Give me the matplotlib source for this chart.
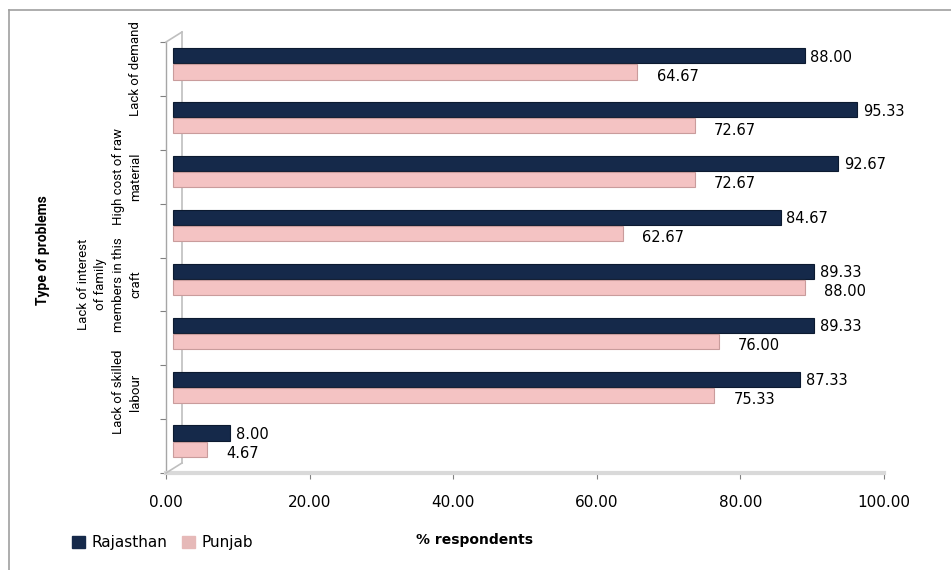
import matplotlib
matplotlib.use("Agg")
import matplotlib.pyplot as plt
import matplotlib.transforms as mtransforms
from matplotlib.lines import Line2D
import numpy as np

# ---------------- data ----------------
categories = [
    "Lack of demand",
    "",
    "High cost of raw\nmaterial",
    "",
    "Lack of interest\nof family\nmembers in this\ncraft",
    "",
    "Lack of skilled\nlabour",
    "",
]
rajasthan = [88.00, 95.33, 92.67, 84.67, 89.33, 89.33, 87.33, 8.00]
punjab = [64.67, 72.67, 72.67, 62.67, 88.00, 76.00, 75.33, 4.67]
series_names = ["Rajasthan", "Punjab"]
xticks = [0, 20, 40, 60, 80, 100]
xlabel = "% respondents"
ylabel = "Type of problems"

# ---------------- style ----------------
W, H, DPI = 951, 570, 100
c_raj = "#15294a"
c_raj_edge = "#0c1a30"
c_pun = "#f4c3c3"
c_pun_edge = "#c99c9c"
c_leg_pun = "#e6b9b8"
grid_c = "#bfbfbf"

fig = plt.figure(figsize=(W / DPI, H / DPI), dpi=DPI)
ax = fig.add_axes([166 / W, (H - 473) / H, (884 - 166) / W, (473 - 42) / H])

n = len(categories)
idx = np.arange(n)
off = mtransforms.ScaledTranslation(7 / DPI, 5 / DPI, fig.dpi_scale_trans)
bar_tr = ax.transData + off
bh = 0.28

b1 = ax.barh(idx - 0.15, rajasthan, height=bh, color=c_raj, edgecolor=c_raj_edge,
             linewidth=0.8, transform=bar_tr, label=series_names[0], zorder=3)
b2 = ax.barh(idx + 0.15, punjab, height=bh, color=c_pun, edgecolor=c_pun_edge,
             linewidth=0.8, transform=bar_tr, label=series_names[1], zorder=3)

for i in range(n):
    ax.annotate(f"{rajasthan[i]:.2f}", xy=(rajasthan[i], i - 0.15), xycoords=bar_tr,
                xytext=(4, -1), textcoords="offset points", ha="left", va="center",
                fontsize=10.5, color="#000000", zorder=4)
    ax.annotate(f"{punjab[i]:.2f}", xy=(punjab[i], i + 0.15), xycoords=bar_tr,
                xytext=(14, -3), textcoords="offset points", ha="left", va="center",
                fontsize=10.5, color="#000000", zorder=4)

ax.set_xlim(0, 100)
ax.set_ylim(n - 0.5, -0.5)
ax.set_xticks(xticks)
ax.set_xticklabels([f"{v:.2f}" for v in xticks], fontsize=11)
ax.tick_params(axis="x", length=4, color="#808080", pad=12, labelcolor="#000000")

# y: boundary ticks (major) and labels at centres (minor)
ax.set_yticks(np.arange(n + 1) - 0.5)
ax.set_yticklabels([])
ax.tick_params(axis="y", which="major", length=4, color="#808080")
ax.set_yticks(idx, minor=True)
ax.set_yticklabels(categories, minor=True, rotation=90, va="center", ha="right",
                   multialignment="center", fontsize=9.5, family="Roboto", color="#000000",
                   linespacing=1.45)
ax.tick_params(axis="y", which="minor", length=0, pad=17)

for s in ["top", "right"]:
    ax.spines[s].set_visible(False)
ax.spines["left"].set_color("#a6a6a6")
ax.spines["left"].set_linewidth(1)
ax.spines["bottom"].set_color("#d9d9d9")
ax.spines["bottom"].set_linewidth(3)

# 3-D back wall edge
wall = mtransforms.ScaledTranslation(16 / DPI, 10 / DPI, fig.dpi_scale_trans)
ax.plot([0, 0], [n - 0.5, -0.5], color=grid_c, lw=1.2, transform=ax.transData + wall,
        clip_on=False, zorder=1)
fig.canvas.draw()
for yv in [-0.5, n - 0.5]:
    p0 = ax.transData.transform((0, yv))
    p1 = (ax.transData + wall).transform((0, yv))
    fig.add_artist(Line2D([p0[0], p1[0]], [p0[1], p1[1]], transform=None,
                          color=grid_c, lw=1.2))

# axis titles
fig.text(474 / W, 1 - 540 / H, xlabel, ha="center", va="center", fontsize=10,
         fontweight="bold")
fig.text(43 / W, 1 - 250 / H, ylabel, ha="center", va="center", rotation=90,
         fontsize=10, fontweight="bold", family="Roboto")

# legend
h1 = plt.Rectangle((0, 0), 1, 1, color=c_raj)
h2 = plt.Rectangle((0, 0), 1, 1, color=c_leg_pun)
fig.legend([h1, h2], series_names, loc="center left",
           bbox_to_anchor=(72 / W, 1 - 543 / H), ncol=2, frameon=False,
           handlelength=0.85, handleheight=0.85, handletextpad=0.4,
           columnspacing=1.0, borderpad=0, borderaxespad=0, fontsize=11)

# outer chart border (top and left visible)
fig.add_artist(Line2D([9 / W, 1], [1 - 10 / H, 1 - 10 / H], transform=fig.transFigure,
                      color="#a0a0a0", lw=1.2))
fig.add_artist(Line2D([9 / W, 9 / W], [0, 1 - 10 / H], transform=fig.transFigure,
                      color="#a0a0a0", lw=1.2))

fig.savefig("out.png", dpi=DPI)
